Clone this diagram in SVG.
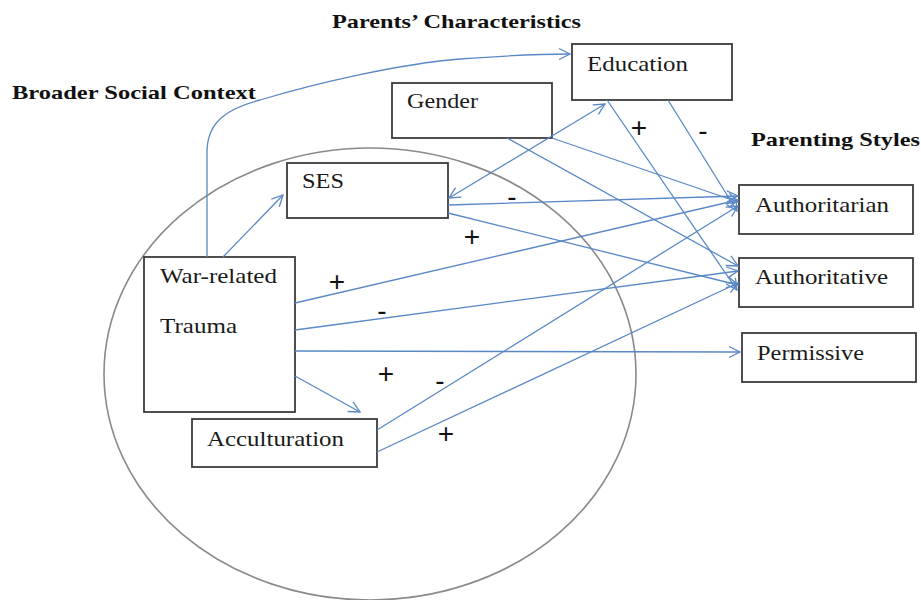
<svg xmlns="http://www.w3.org/2000/svg" width="921" height="600" viewBox="0 0 921 600">
<defs>
<marker id="arr" markerUnits="userSpaceOnUse" markerWidth="14" markerHeight="14" refX="12" refY="7" orient="auto-start-reverse">
<path d="M1,1.5 L12,7 L1,12.5" fill="none" stroke="#5a88c6" stroke-width="1.3"/>
</marker>
</defs>
<style>
.box{fill:#fff;stroke:#3c3c3c;stroke-width:1.8}
.lbl{font-family:"Liberation Serif","Times New Roman",serif;font-size:21px;fill:#1a1a1a}
.hd{font-family:"Liberation Serif","Times New Roman",serif;font-size:19px;font-weight:bold;fill:#111}
.sg{font-family:"Liberation Sans",Arial,sans-serif;font-size:28px;fill:#111;text-anchor:middle}
.c{fill:none;stroke:#5a88c6;stroke-width:1.3;marker-end:url(#arr)}
</style>
<rect width="921" height="600" fill="#fff"/>
<ellipse id="context" cx="370" cy="374" rx="266" ry="226" fill="none" stroke="#8a8a8a" stroke-width="1.6"/>
<g id="headings">
<text class="hd" x="332" y="28" textLength="249" lengthAdjust="spacingAndGlyphs">Parents’ Characteristics</text>
<text class="hd" x="12" y="99" textLength="244" lengthAdjust="spacingAndGlyphs">Broader Social Context</text>
<text class="hd" x="751" y="146" textLength="169" lengthAdjust="spacingAndGlyphs">Parenting Styles</text>
</g>
<g id="education"><rect class="box" x="572" y="44" width="160" height="56"/><text class="lbl" x="587" y="71" textLength="101" lengthAdjust="spacingAndGlyphs">Education</text></g>
<g id="gender"><rect class="box" x="392" y="83" width="160" height="55"/><text class="lbl" x="407" y="108" textLength="71" lengthAdjust="spacingAndGlyphs">Gender</text></g>
<g id="ses"><rect class="box" x="287" y="163" width="161" height="55"/><text class="lbl" x="302" y="188" textLength="42" lengthAdjust="spacingAndGlyphs">SES</text></g>
<g id="trauma"><rect class="box" x="144" y="257" width="151" height="155"/><text class="lbl" x="160" y="283" textLength="117" lengthAdjust="spacingAndGlyphs">War-related</text><text class="lbl" x="160" y="333" textLength="77" lengthAdjust="spacingAndGlyphs">Trauma</text></g>
<g id="acculturation"><rect class="box" x="192" y="419" width="185" height="48"/><text class="lbl" x="207" y="446" textLength="137" lengthAdjust="spacingAndGlyphs">Acculturation</text></g>
<g id="authoritarian"><rect class="box" x="739" y="185" width="174" height="49"/><text class="lbl" x="755" y="212" textLength="134" lengthAdjust="spacingAndGlyphs">Authoritarian</text></g>
<g id="authoritative"><rect class="box" x="739" y="258" width="174" height="49"/><text class="lbl" x="755" y="284" textLength="133" lengthAdjust="spacingAndGlyphs">Authoritative</text></g>
<g id="permissive"><rect class="box" x="742" y="333" width="174" height="49"/><text class="lbl" x="757" y="360" textLength="107" lengthAdjust="spacingAndGlyphs">Permissive</text></g>
<g id="connectors">
<path class="c" d="M207,257 L207,152 C207,120 230,108 260,100 C320,82 400,64 460,59 C500,56 540,54 570,54"/>
<path class="c" d="M223,257 L283,195"/>
<path class="c" d="M295,376 L360,412"/>
<path class="c" d="M449,198 L605,104" style="marker-start:url(#arr)"/>
<path class="c" d="M448,205 L738,196"/>
<path class="c" d="M448,213 L738,285"/>
<path class="c" d="M552,138 L738,202"/>
<path class="c" d="M507,138 L738,266"/>
<path class="c" d="M668,100 L737,211"/>
<path class="c" d="M607,100 L737,290"/>
<path class="c" d="M295,303 L738,200"/>
<path class="c" d="M295,330 L738,271"/>
<path class="c" d="M295,351 L740,352"/>
<path class="c" d="M377,430 L738,206"/>
<path class="c" d="M377,452 L738,283"/>
</g>
<g id="signs">
<text class="sg" x="337" y="291">+</text>
<text class="sg" x="382" y="320">-</text>
<text class="sg" x="386" y="383">+</text>
<text class="sg" x="440" y="390">-</text>
<text class="sg" x="446" y="443">+</text>
<text class="sg" x="472" y="246">+</text>
<text class="sg" x="512" y="206">-</text>
<text class="sg" x="639" y="137">+</text>
<text class="sg" x="703" y="140">-</text>
</g>
</svg>
